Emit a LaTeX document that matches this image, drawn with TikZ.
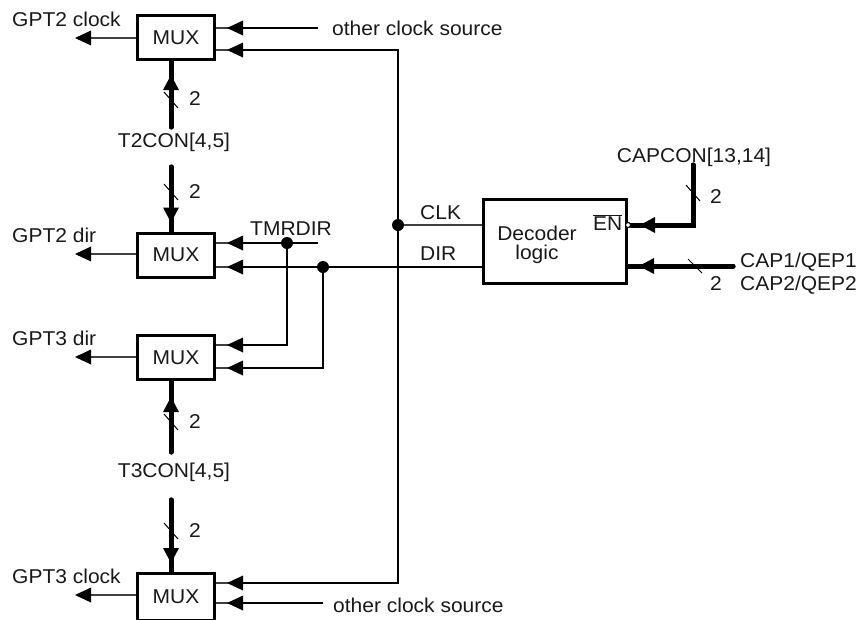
\documentclass[tikz,border=0pt]{standalone}
\usepackage{fontspec}
\setmainfont{Liberation Sans}[FakeStretch=1.05]
\usetikzlibrary{arrows.meta}
\begin{document}
\begin{tikzpicture}[x=1pt,y=-1pt,
  txt/.style={font=\fontsize{20}{24}\selectfont, inner sep=0pt, text=black!90},
  muxbox/.style={draw=black, line width=3pt, minimum width=77pt, minimum height=44pt, inner sep=0pt, font=\fontsize{20}{24}\selectfont, text=black!90},
  sig/.style={line width=1.3pt, draw=black!75},
  outarr/.style={-{Triangle[length=16pt,width=15pt,line width=0pt,color=black]}},
  tipin/.style={postaction={draw=black, line width=1.3pt, -{Triangle[length=16pt,width=15pt,line width=0pt]}, shorten >=#1}},
  bus/.style={line width=5pt, draw=black, line cap=round},
  busin/.style={postaction={draw=black, line width=5pt, -{Triangle[length=15pt,width=16pt,line width=0pt]}, shorten >=#1}},
  slashm/.style={line width=1pt, draw=black},
  dotn/.style={circle, fill=black, inner sep=0pt, minimum size=12pt}
]
\useasboundingbox (0,0) rectangle (868,619);

% boxes
\node[muxbox] (mux1) at (176,37.5) {MUX};
\node[muxbox] (mux2) at (176,255) {MUX};
\node[muxbox] (mux3) at (176,357.5) {MUX};
\node[muxbox, minimum height=47pt] (mux4) at (176,597) {MUX};
\node[draw=black, line width=3pt, minimum width=143pt, minimum height=84pt, inner sep=0pt] (dec) at (555,241.5) {};
\node[circle, draw=black, fill=white, line width=1pt, inner sep=0pt, minimum size=5pt] (bub) at (628,225) {};

% texts
\node[txt, anchor=base west] (gpt2clk) at (12,26) {GPT2 clock};
\node[txt, anchor=base west] (ocs1) at (332,35) {other clock source};
\node[txt, anchor=base] (t2con) at (174,147) {T2CON[4,5]};
\node[txt, anchor=base west] (gpt2dir) at (12,242) {GPT2 dir};
\node[txt, anchor=base west] (tmrdir) at (250,235) {TMRDIR};
\node[txt, anchor=base west] (gpt3dir) at (12,345) {GPT3 dir};
\node[txt, anchor=base] (t3con) at (174,477) {T3CON[4,5]};
\node[txt, anchor=base west] (gpt3clk) at (12,583) {GPT3 clock};
\node[txt, anchor=base west] (ocs2) at (333,612) {other clock source};
\node[txt, anchor=base west] (clk) at (420,219) {CLK};
\node[txt, anchor=base west] (dirl) at (420,260) {DIR};
\node[txt, anchor=base] (decl1) at (537,240) {Decoder};
\node[txt, anchor=base] (decl2) at (537,259) {logic};
\node[txt, anchor=base west] (en) at (593,230) {$\overline{\mbox{EN}}$};
\node[txt, anchor=base] (capcon) at (694,162) {CAPCON[13,14]};
\node[txt, anchor=base west] (cap1) at (740,267) {CAP1/QEP1};
\node[txt, anchor=base west] (cap2) at (740,290) {CAP2/QEP2};
\node[txt, anchor=base west] (n1) at (189,105) {2};
\node[txt, anchor=base west] (n2) at (189,198) {2};
\node[txt, anchor=base west] (n3) at (189,428) {2};
\node[txt, anchor=base west] (n4) at (189,537) {2};
\node[txt, anchor=base west] (n5) at (710,203) {2};
\node[txt, anchor=base west] (n6) at (710,290) {2};

% coordinates
\coordinate (o1) at (75,38);
\coordinate (o2) at (75,254);
\coordinate (o3) at (75,357);
\coordinate (o4) at (75,595);
\coordinate (ocs1e) at (318,28);
\coordinate (ocs2e) at (323,603);
\coordinate (clkd) at (398,225);
\coordinate (tmrd) at (287,243);
\coordinate (tmre) at (318,243);
\coordinate (dird) at (323,267);
\coordinate (b1s) at (171,127);
\coordinate (b2s) at (171,167);
\coordinate (b3s) at (171,452);
\coordinate (b4s) at (171,500);
\coordinate (ens) at (693,165);
\coordinate (caps) at (733,266);

% outputs
\draw[sig, outarr] (mux1.west |- o1) -- (o1);
\draw[sig, outarr] (mux2.west |- o2) -- (o2);
\draw[sig, outarr] (mux3.west |- o3) -- (o3);
\draw[sig, outarr] (mux4.west |- o4) -- (o4);

% thin inputs
\draw[sig, tipin=11pt] (ocs1e) -- (mux1.east |- ocs1e);
\draw[sig, tipin=11pt] (ocs2e) -- (mux4.east |- ocs2e);
\draw[sig, tipin=11pt] (clkd) |- (mux1.east |- 0,50);
\draw[sig, tipin=11pt] (clkd) |- (mux4.east |- 0,583);
\draw[sig] (clkd) -- (dec.west |- clkd);
\draw[sig, tipin=11pt] (tmre) -- (mux2.east |- tmre);
\draw[sig, tipin=11pt] (tmrd) |- (mux3.east |- 0,345);
\draw[sig, tipin=11pt] (dec.west |- dird) -- (mux2.east |- dird);
\draw[sig, tipin=11pt] (dird) |- (mux3.east |- 0,368);

% buses
\draw[bus, busin=14pt] (b1s) -- (mux1.south -| b1s);
\draw[bus, busin=9pt] (b2s) -- (mux2.north -| b2s);
\draw[bus, busin=16pt] (b3s) -- (mux3.south -| b3s);
\draw[bus, busin=9pt] (b4s) -- (mux4.north -| b4s);
\draw[bus, busin=9pt] (ens) |- (bub);
\draw[bus, busin=11pt] (caps) -- (dec.east |- caps);

% bus width marks
\draw[slashm] (164,92) -- (178,108);
\draw[slashm] (164,184) -- (178,200);
\draw[slashm] (164,414) -- (178,430);
\draw[slashm] (164,523) -- (178,539);
\draw[slashm] (686,185) -- (700,201);
\draw[slashm] (688,259) -- (702,273);

% junction dots
\node[dotn] (clkdot) at (clkd) {};
\node[dotn] (tmrdot) at (tmrd) {};
\node[dotn] (dirdot) at (dird) {};
\node[circle, draw=black, fill=white, line width=1pt, inner sep=0pt, minimum size=5pt] (bubtop) at (bub) {};
\end{tikzpicture}
\end{document}
